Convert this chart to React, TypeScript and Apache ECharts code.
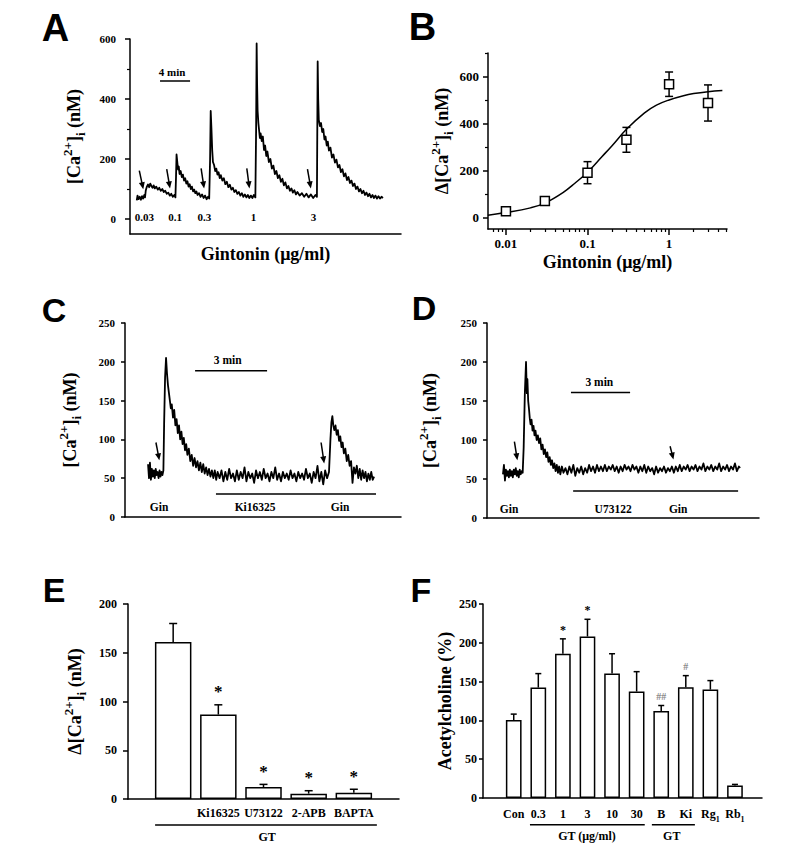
import React, { useEffect, useRef } from "react";
import * as echarts from "echarts";

const SERIF = "Liberation Serif";
const SANS = "Liberation Sans";

// ---------- Panel A: [Ca2+]i trace, time in min vs nM ----------
const aTrace: number[][] = [
  [0.9, 62], [1.0, 78], [1.15, 66], [1.3, 74], [1.45, 64], [1.6, 76], [1.75, 68], [1.9, 80], [2.0, 72],
  [2.1, 95], [2.25, 108], [2.4, 115], [2.55, 106], [2.7, 118], [2.85, 110], [3.0, 104], [3.15, 112], [3.3, 102],
  [3.5, 108], [3.7, 98], [3.9, 104], [4.1, 94], [4.3, 100], [4.5, 90], [4.7, 94], [4.9, 84], [5.1, 88], [5.3, 78],
  [5.5, 84], [5.7, 74], [5.9, 80], [6.05, 72],
  [6.13, 140], [6.2, 215], [6.3, 190], [6.4, 165], [6.5, 175], [6.6, 150], [6.75, 160], [6.9, 140], [7.05, 148],
  [7.2, 128], [7.35, 136], [7.5, 118], [7.65, 126], [7.8, 108], [7.95, 116], [8.1, 100], [8.25, 108], [8.4, 92],
  [8.55, 98], [8.7, 86], [8.85, 92], [9.0, 80], [9.2, 86], [9.4, 74], [9.6, 82], [9.8, 70], [10.0, 78], [10.2, 66],
  [10.4, 74], [10.55, 68],
  [10.67, 200], [10.75, 360], [10.85, 300], [10.95, 230], [11.05, 190], [11.2, 180], [11.35, 160], [11.5, 168],
  [11.65, 148], [11.8, 156], [11.95, 136], [12.1, 146], [12.3, 128], [12.5, 136], [12.7, 116], [12.9, 124],
  [13.1, 106], [13.3, 114], [13.5, 98], [13.7, 104], [13.9, 90], [14.1, 96], [14.3, 84], [14.5, 90], [14.7, 78],
  [14.9, 86], [15.1, 74], [15.3, 82], [15.5, 72], [15.7, 80], [15.9, 70], [16.1, 78], [16.3, 70], [16.5, 80], [16.7, 72],
  [16.8, 300], [16.87, 585], [16.93, 450], [17.0, 360], [17.1, 320], [17.2, 295], [17.3, 270], [17.4, 285],
  [17.55, 260], [17.7, 275], [17.85, 230], [18.0, 245], [18.15, 210], [18.3, 225], [18.5, 190], [18.7, 200],
  [18.9, 168], [19.1, 178], [19.3, 150], [19.5, 160], [19.7, 136], [19.9, 146], [20.1, 124], [20.3, 134],
  [20.5, 112], [20.7, 122], [20.9, 102], [21.1, 110], [21.3, 94], [21.5, 102], [21.7, 88], [21.9, 96], [22.1, 82],
  [22.3, 90], [22.6, 78], [22.9, 86], [23.2, 74], [23.5, 84], [23.8, 72], [24.1, 82], [24.4, 70], [24.7, 80], [24.9, 74],
  [24.95, 300], [25.0, 525], [25.07, 400], [25.15, 330], [25.3, 310], [25.45, 320], [25.6, 290], [25.75, 300],
  [25.9, 265], [26.05, 275], [26.2, 245], [26.35, 258], [26.5, 228], [26.7, 238], [26.9, 205], [27.1, 215],
  [27.3, 188], [27.5, 198], [27.7, 172], [27.9, 180], [28.1, 156], [28.3, 166], [28.5, 142], [28.7, 152],
  [28.9, 130], [29.1, 140], [29.3, 120], [29.5, 128], [29.7, 110], [29.9, 118], [30.1, 100], [30.3, 108],
  [30.5, 92], [30.7, 100], [30.9, 86], [31.1, 94], [31.3, 80], [31.5, 88], [31.7, 76], [31.9, 84], [32.1, 72],
  [32.3, 80], [32.5, 70], [32.7, 78], [32.9, 68], [33.1, 76], [33.3, 68], [33.5, 74], [33.7, 70],
];
const aYTicks = [0, 200, 400, 600];
const aYMinorTicks = [100, 300, 500];
const aDoseLabels = ["0.03", "0.1", "0.3", "1", "3"];
const aDoseTimes = [1.9, 6.0, 9.9, 16.45, 24.45];
const aArrows: number[][] = [
  [1.24, 161, 1.77, 99], [4.89, 166, 5.33, 102], [9.47, 169, 9.87, 102], [15.56, 169, 15.91, 102], [23.64, 166, 24.09, 102],
];
const aScaleBar = { from: 4.0, to: 8.0, level: 460, label: "4 min", labelAt: 5.6, labelLevel: 490 };

// ---------- Panel B: dose-response ----------
const bConc = [0.01, 0.03, 0.1, 0.3, 1, 3];
const bMean = [26, 69, 190, 330, 567, 487];
const bSem = [10, 12, 47, 53, 52, 77];
const bFitConc = [0.006, 0.01, 0.02, 0.03, 0.05, 0.07, 0.1, 0.15, 0.2, 0.3, 0.5, 0.7, 1, 1.5, 2, 3, 4.5];
const bFitVal = [9, 20, 40, 60, 105, 145, 192, 258, 305, 375, 445, 478, 500, 518, 527, 535, 540];
const bYTicks = [0, 200, 400, 600];
const bYMinorTicks = [100, 300, 500, 700];
const bXTickConc = [0.01, 0.1, 1];
const bXTickLabels = ["0.01", "0.1", "1"];
const bXMinorConc = [0.006, 0.007, 0.008, 0.009, 0.02, 0.03, 0.04, 0.05, 0.06, 0.07, 0.08, 0.09,
  0.2, 0.3, 0.4, 0.5, 0.6, 0.7, 0.8, 0.9, 2, 3, 4, 5];

// ---------- Panel C: trace with Ki16325 ----------
const cTrace: number[][] = [
  [0.96, 68], [1.0, 50], [1.04, 70], [1.08, 48], [1.12, 62], [1.16, 52], [1.2, 60], [1.24, 50], [1.28, 62], [1.32, 54],
  [1.36, 58], [1.4, 50], [1.44, 60], [1.48, 52], [1.52, 58], [1.56, 54], [1.6, 60],
  [1.63, 120], [1.67, 180], [1.71, 205], [1.75, 185], [1.79, 170], [1.83, 160], [1.87, 150], [1.91, 140], [1.95, 145],
  [2.0, 128], [2.05, 138], [2.1, 118], [2.15, 126], [2.2, 108], [2.25, 118], [2.3, 100], [2.35, 110], [2.4, 94],
  [2.45, 102], [2.5, 86], [2.55, 94], [2.6, 80], [2.66, 88], [2.72, 72], [2.78, 80], [2.84, 66], [2.9, 76], [2.96, 64],
  [3.02, 72], [3.08, 60], [3.14, 70], [3.2, 58], [3.26, 68], [3.32, 56], [3.38, 64], [3.44, 54], [3.5, 62], [3.56, 52],
  [3.62, 60], [3.68, 50], [3.74, 60], [3.8, 48], [3.86, 58],
  [3.94, 50], [4.02, 60], [4.1, 46], [4.18, 58], [4.26, 48], [4.34, 62], [4.42, 50], [4.5, 56], [4.58, 46], [4.66, 60],
  [4.74, 48], [4.82, 58], [4.9, 50], [4.98, 64], [5.06, 46], [5.14, 58], [5.22, 50], [5.3, 56], [5.38, 44], [5.46, 60],
  [5.54, 50], [5.62, 58], [5.7, 48], [5.78, 62], [5.86, 50], [5.94, 56], [6.02, 46], [6.1, 58], [6.18, 50], [6.26, 64],
  [6.34, 48], [6.42, 56], [6.5, 46], [6.58, 58], [6.66, 50], [6.74, 56], [6.82, 48], [6.9, 60], [6.98, 50], [7.06, 56],
  [7.14, 46], [7.22, 58], [7.3, 50], [7.38, 56], [7.46, 48], [7.54, 62], [7.62, 50], [7.7, 56], [7.78, 44], [7.86, 58],
  [7.94, 50], [8.02, 66], [8.1, 46], [8.18, 58], [8.26, 42], [8.34, 60], [8.42, 50], [8.5, 58],
  [8.56, 100], [8.6, 122], [8.64, 130], [8.68, 118], [8.72, 112], [8.77, 118], [8.82, 106], [8.87, 112], [8.92, 98],
  [8.97, 104], [9.02, 90], [9.07, 96], [9.12, 82], [9.18, 88], [9.24, 72], [9.3, 80], [9.36, 66], [9.42, 72], [9.48, 44],
  [9.54, 64], [9.6, 56], [9.66, 66], [9.72, 50], [9.78, 62], [9.84, 48], [9.9, 60], [9.96, 50], [10.02, 58], [10.08, 46],
  [10.14, 56], [10.2, 48], [10.26, 58], [10.32, 48], [10.38, 52],
];
const cArrows: number[][] = [[1.29, 96, 1.43, 73], [8.17, 96, 8.3, 69]];
const cLabels = ["Gin", "Ki16325", "Gin"];
const cLabelTimes = [1.42, 5.42, 8.96];
const cDrugBar = { from: 3.79, to: 10.46, level: 29.6 };
const cScaleBar = { from: 2.92, to: 5.92, level: 188.5, label: "3 min", labelAt: 4.28, labelLevel: 202 };

// ---------- Panel D: trace with U73122 ----------
const dTrace: number[][] = [
  [0.81, 56], [0.86, 68], [0.91, 48], [0.96, 62], [1.01, 54], [1.06, 60], [1.11, 52], [1.16, 62], [1.21, 54], [1.26, 60],
  [1.31, 52], [1.36, 62], [1.41, 56], [1.46, 64], [1.51, 54], [1.56, 60], [1.61, 52], [1.66, 62], [1.71, 56], [1.76, 60],
  [1.81, 58],
  [1.86, 90], [1.92, 160], [1.98, 200], [2.02, 160], [2.05, 178], [2.09, 150], [2.13, 140], [2.17, 128], [2.21, 120],
  [2.26, 126], [2.31, 112], [2.36, 118], [2.41, 106], [2.46, 112], [2.52, 100], [2.58, 106], [2.64, 96], [2.7, 102],
  [2.76, 88], [2.82, 94], [2.88, 82], [2.94, 88], [3.0, 78], [3.06, 84], [3.12, 72], [3.18, 78], [3.24, 68], [3.3, 74],
  [3.36, 64], [3.42, 70], [3.48, 60], [3.54, 68], [3.6, 58], [3.66, 66], [3.72, 56], [3.8, 66], [3.88, 58],
  [3.98, 64], [4.08, 56], [4.18, 66], [4.28, 58], [4.38, 68], [4.48, 54], [4.58, 64], [4.68, 58], [4.78, 66], [4.88, 56],
  [4.98, 64], [5.08, 58], [5.18, 68], [5.28, 60], [5.38, 66], [5.48, 58], [5.58, 68], [5.68, 60], [5.78, 66], [5.88, 60],
  [5.98, 68], [6.08, 60], [6.18, 66], [6.28, 62], [6.38, 68], [6.48, 60], [6.58, 66], [6.68, 58], [6.78, 66], [6.88, 60],
  [6.98, 68], [7.08, 62], [7.18, 66], [7.28, 60], [7.38, 68], [7.48, 62], [7.58, 66], [7.68, 58], [7.78, 66], [7.88, 60],
  [7.98, 68], [8.08, 58], [8.18, 66], [8.28, 60], [8.38, 64], [8.48, 56], [8.58, 66], [8.68, 58], [8.78, 64], [8.88, 60],
  [8.98, 66], [9.08, 58], [9.18, 64], [9.28, 60], [9.38, 66], [9.48, 58], [9.58, 66], [9.68, 60], [9.78, 68], [9.88, 60],
  [9.98, 66], [10.08, 62], [10.18, 68], [10.28, 60], [10.38, 66], [10.48, 62], [10.58, 68], [10.68, 60], [10.78, 66],
  [10.88, 62], [10.98, 70], [11.08, 60], [11.18, 66], [11.28, 62], [11.38, 68], [11.48, 60], [11.58, 66], [11.68, 62],
  [11.78, 70], [11.88, 60], [11.98, 66], [12.08, 62], [12.18, 68], [12.28, 60], [12.38, 66], [12.48, 62], [12.58, 70],
  [12.68, 60], [12.78, 66], [12.84, 64],
];
const dArrows: number[][] = [[1.39, 98, 1.54, 74], [9.29, 92, 9.46, 75]];
const dLabels = ["Gin", "U73122", "Gin"];
const dLabelTimes = [1.12, 6.4, 9.7];
const dDrugBar = { from: 4.37, to: 12.74, level: 34.6 };
const dScaleBar = { from: 4.26, to: 7.26, level: 161, label: "3 min", labelAt: 5.7, labelLevel: 175 };

// ---------- Panel E: bar chart ----------
const eLabels = ["", "Ki16325", "U73122", "2-APB", "BAPTA"];
const eMean = [161, 86.6, 12.3, 5.5, 6.5];
const eSem = [19, 10, 2.7, 3, 3.5];
const eMarks = ["", "*", "*", "*", "*"];
const eGroup = { label: "GT", from: 0.6, to: 5.51, level: -26.7, labelAt: 3.08, labelLevel: -39 };

// ---------- Panel F: acetylcholine ----------
const fLabels = ["Con", "0.3", "1", "3", "10", "30", "B", "Ki", "Rg{s|1}", "Rb{s|1}"];
const fMean = [100.4, 142.3, 185.9, 208.1, 160.3, 137.2, 112, 142.7, 139.7, 16.2];
const fSem = [7.7, 18, 19.2, 22.2, 25.6, 25.6, 7.2, 15, 11.6, 1.3];
const fMarks = ["", "", "*", "*", "", "", "##", "#", "", ""];
const fGroups = [
  { label: "GT (\u03bcg/ml)", from: 1.66, to: 6.33, labelAt: 3.98 },
  { label: "GT", from: 6.62, to: 8.37, labelAt: 7.43 },
];
const fGroupLevel = -34.4;
const fGroupLabelLevel = -49.6;

// ---------- helpers ----------
const black = "#000";
const axLine = { show: true, onZero: false, lineStyle: { color: black, width: 1.5 } };

function yAxis(grid: number, min: number, max: number, ticks: number[], o: any) {
  return {
    type: "value", gridIndex: grid, min, max, position: "left",
    axisLine: axLine,
    axisTick: { show: true, inside: false, length: o.tickLen ?? 5, lineStyle: { color: black, width: 1.5 }, customValues: ticks },
    axisLabel: {
      show: true, customValues: ticks, margin: o.margin, color: black,
      fontFamily: SERIF, fontWeight: "bold", fontSize: o.fontSize,
    },
    splitLine: { show: false },
    name: o.name, nameLocation: "middle", nameGap: o.nameGap, nameRotate: 90,
    nameTextStyle: {
      color: black, fontFamily: SERIF, fontWeight: "bold", fontSize: 18,
      rich: {
        n: { fontFamily: SERIF, fontWeight: "bold", fontSize: 18, lineHeight: 26, color: black },
        sup: { fontFamily: SERIF, fontWeight: "bold", fontSize: 13, lineHeight: 13, verticalAlign: "top", color: black },
        sub: { fontFamily: SERIF, fontWeight: "bold", fontSize: 13, lineHeight: 13, verticalAlign: "bottom", color: black },
      },
    },
  };
}
function minorY(grid: number, min: number, max: number, ticks: number[]) {
  return {
    type: "value", gridIndex: grid, min, max, position: "left", axisLine: { show: false, onZero: false }, splitLine: { show: false },
    axisTick: { show: true, length: 3, lineStyle: { color: black, width: 1.2 }, customValues: ticks },
    axisLabel: { show: false },
  };
}
const caName = "{n|[Ca}{sup|2+}{n|]}{sub|i}{n| (nM)}";
const dCaName = "{n|\u0394[Ca}{sup|2+}{n|]}{sub|i}{n| (nM)}";

function renderAnnots(items: any[]) {
  return (_params: any, api: any) => {
    const ch: any[] = [];
    for (const it of items) {
      if (it.k === "line") {
        const a = api.coord([it.x1, it.y1]);
        const b = api.coord([it.x2, it.y2]);
        ch.push({ type: "line", shape: { x1: a[0], y1: a[1], x2: b[0], y2: b[1] }, style: { stroke: black, lineWidth: it.w ?? 1.5 } });
      } else if (it.k === "arrow") {
        const a = api.coord([it.x1, it.y1]);
        const b = api.coord([it.x2, it.y2]);
        const dx = b[0] - a[0], dy = b[1] - a[1];
        const L = Math.hypot(dx, dy) || 1;
        const ux = dx / L, uy = dy / L;
        const hl = 7, hw = 3;
        const bx = b[0] - ux * hl, by = b[1] - uy * hl;
        ch.push({ type: "line", shape: { x1: a[0], y1: a[1], x2: bx + ux * 2, y2: by + uy * 2 }, style: { stroke: black, lineWidth: 1.5 } });
        ch.push({ type: "polygon", shape: { points: [[b[0], b[1]], [bx - uy * hw, by + ux * hw], [bx + uy * hw, by - ux * hw]] }, style: { fill: black } });
      } else if (it.k === "text") {
        const p = api.coord([it.x, it.y]);
        ch.push({
          type: "text", x: p[0], y: p[1] + (it.dy ?? 0),
          style: {
            text: it.t, fill: it.color ?? black, fontFamily: SERIF, fontWeight: "bold",
            fontSize: it.size ?? 12, align: "center", verticalAlign: "middle",
          },
        });
      } else if (it.k === "err") {
        const top = api.coord([it.x, it.hi]);
        const bot = api.coord([it.x, it.lo]);
        const h = it.cap / 2;
        ch.push({ type: "line", shape: { x1: top[0], y1: top[1], x2: bot[0], y2: bot[1] }, style: { stroke: black, lineWidth: 1.5 } });
        ch.push({ type: "line", shape: { x1: top[0] - h, y1: top[1], x2: top[0] + h, y2: top[1] }, style: { stroke: black, lineWidth: 1.5 } });
        if (it.both) {
          ch.push({ type: "line", shape: { x1: bot[0] - h, y1: bot[1], x2: bot[0] + h, y2: bot[1] }, style: { stroke: black, lineWidth: 1.5 } });
        }
      }
    }
    return { type: "group", children: ch };
  };
}

function annotSeries(xi: number, yi: number, items: any[], z = 5) {
  return {
    type: "custom", xAxisIndex: xi, yAxisIndex: yi, silent: true, clip: false, z,
    data: [[0, 0]], renderItem: renderAnnots(items),
  };
}

function traceSeries(xi: number, yi: number, data: number[][]) {
  return {
    type: "line", xAxisIndex: xi, yAxisIndex: yi, data, showSymbol: false, symbol: "none", silent: true,
    lineStyle: { color: black, width: 1.8, join: "round" }, z: 3,
  };
}

function buildOption() {
  const grids = [
    { left: 130, top: 39, width: 271, height: 195 },
    { left: 488, top: 53, width: 239, height: 176 },
    { left: 125, top: 323, width: 276, height: 194 },
    { left: 487, top: 323, width: 272, height: 195 },
    { left: 128, top: 604, width: 271, height: 195 },
    { left: 483, top: 604, width: 279, height: 194 },
  ].map((g) => ({ ...g, containLabel: false, outerBoundsMode: "none" }));

  const noTickX = (grid: number, min: number, max: number, extra: any = {}) => ({
    type: "value", gridIndex: grid, min, max, position: "bottom", axisLine: axLine,
    axisTick: { show: false }, axisLabel: { show: false }, splitLine: { show: false }, ...extra,
  });
  const xNameStyle = { color: black, fontFamily: SERIF, fontWeight: "bold", fontSize: 18 };

  const log = (v: number) => Math.log10(v);

  const xAxes: any[] = [
    noTickX(0, 0, 36.1, { name: "Gintonin (\u03bcg/ml)", nameLocation: "middle", nameGap: 11, nameTextStyle: xNameStyle }),
    {
      type: "value", gridIndex: 1, min: -2.22, max: 0.71, position: "bottom", axisLine: axLine, splitLine: { show: false },
      axisTick: { show: true, length: 6, lineStyle: { color: black, width: 1.5 }, customValues: bXTickConc.map(log) },
      axisLabel: {
        show: true, customValues: bXTickConc.map(log), margin: 8, color: black, fontFamily: SERIF, fontWeight: "bold", fontSize: 13,
        formatter: (v: number) => bXTickLabels[bXTickConc.findIndex((c) => Math.abs(log(c) - v) < 1e-6)] ?? "",
      },
      name: "Gintonin (\u03bcg/ml)", nameLocation: "middle", nameGap: 24, nameTextStyle: xNameStyle,
    },
    {
      type: "value", gridIndex: 1, min: -2.22, max: 0.71, position: "bottom", axisLine: { show: false, onZero: false }, splitLine: { show: false },
      axisTick: { show: true, length: 3, lineStyle: { color: black, width: 1.2 }, customValues: bXMinorConc.map(log) },
      axisLabel: { show: false },
    },
    noTickX(2, 0, 11.5),
    noTickX(3, 0, 13.8),
    {
      type: "value", gridIndex: 4, min: 0, max: 6, position: "bottom", axisLine: axLine, splitLine: { show: false }, axisTick: { show: false },
      axisLabel: {
        show: true, customValues: [1, 2, 3, 4, 5], margin: 8, color: black, fontFamily: SERIF, fontWeight: "bold", fontSize: 12,
        formatter: (v: number) => eLabels[Math.round(v) - 1] ?? "",
      },
    },
    {
      type: "value", gridIndex: 5, min: -0.25, max: 11.1, position: "bottom", axisLine: axLine, splitLine: { show: false }, axisTick: { show: false },
      axisLabel: {
        show: true, customValues: [1, 2, 3, 4, 5, 6, 7, 8, 9, 10], margin: 7, color: black, fontFamily: SERIF, fontWeight: "bold", fontSize: 12,
        formatter: (v: number) => {
          const s = fLabels[Math.round(v) - 1] ?? "";
          return s.includes("{s|") ? "{n|" + s.replace("{s|", "}{s|") : "{n|" + s + "}";
        },
        rich: {
          n: { fontFamily: SERIF, fontWeight: "bold", fontSize: 12, lineHeight: 18, color: black },
          s: { fontFamily: SERIF, fontWeight: "bold", fontSize: 8, lineHeight: 8, verticalAlign: "bottom", color: black },
        },
      },
    },
  ];

  const yAxes: any[] = [
    yAxis(0, -50, 600, aYTicks, { margin: 14, fontSize: 11, name: caName, nameGap: 43 }),
    yAxis(1, -50, 700, bYTicks, { margin: 9, fontSize: 13, name: dCaName, nameGap: 33, tickLen: 5 }),
    minorY(1, -50, 700, bYMinorTicks),
    yAxis(2, 0, 250, [0, 50, 100, 150, 200, 250], { margin: 10, fontSize: 11, name: caName, nameGap: 42, tickLen: 4 }),
    yAxis(3, 0, 250, [0, 50, 100, 150, 200, 250], { margin: 10, fontSize: 11, name: caName, nameGap: 44, tickLen: 4 }),
    yAxis(4, 0, 200, [0, 50, 100, 150, 200], { margin: 11, fontSize: 12, name: dCaName, nameGap: 40 }),
    yAxis(5, 0, 250, [0, 50, 100, 150, 200, 250], { margin: 6, fontSize: 12, name: "{n|Acetylcholine (%)}", nameGap: 25, tickLen: 4 }),
    minorY(0, -50, 600, aYMinorTicks),
  ];

  // annotations
  const aAnn: any[] = [
    ...aArrows.map((a) => ({ k: "arrow", x1: a[0], y1: a[1], x2: a[2], y2: a[3] })),
    ...aDoseLabels.map((t, i) => ({ k: "text", x: aDoseTimes[i], y: 7, t, size: 11 })),
    { k: "line", x1: aScaleBar.from, y1: aScaleBar.level, x2: aScaleBar.to, y2: aScaleBar.level },
    { k: "text", x: aScaleBar.labelAt, y: aScaleBar.labelLevel, t: aScaleBar.label, size: 11 },
  ];
  const bAnn: any[] = bConc.map((c, i) => ({ k: "err", x: log(c), lo: bMean[i] - bSem[i], hi: bMean[i] + bSem[i], cap: 8, both: true }));
  const traceAnn = (arrows: number[][], labels: string[], times: number[], labelLevel: number, drug: any, sb: any) => [
    ...arrows.map((a) => ({ k: "arrow", x1: a[0], y1: a[1], x2: a[2], y2: a[3] })),
    ...labels.map((t, i) => ({ k: "text", x: times[i], y: labelLevel, t, size: 11.5 })),
    { k: "line", x1: drug.from, y1: drug.level, x2: drug.to, y2: drug.level },
    { k: "line", x1: sb.from, y1: sb.level, x2: sb.to, y2: sb.level },
    { k: "text", x: sb.labelAt, y: sb.labelLevel, t: sb.label, size: 11.5 },
  ];
  const cAnn = traceAnn(cArrows, cLabels, cLabelTimes, 13, cDrugBar, cScaleBar);
  const dAnn = traceAnn(dArrows, dLabels, dLabelTimes, 11.5, dDrugBar, dScaleBar);

  const eAnn: any[] = [
    ...eMean.map((m, i) => ({ k: "err", x: i + 1, lo: m, hi: m + eSem[i], cap: 8 })),
    ...eMarks.map((t, i) => ({ k: "text", x: i + 1, y: eMean[i] + eSem[i], t, size: 17, dy: -13 })).filter((m) => m.t),
    { k: "line", x1: eGroup.from, y1: eGroup.level, x2: eGroup.to, y2: eGroup.level },
    { k: "text", x: eGroup.labelAt, y: eGroup.labelLevel, t: eGroup.label, size: 12 },
  ];
  const fAnn: any[] = [
    ...fMean.map((m, i) => ({ k: "err", x: i + 1, lo: m, hi: m + fSem[i], cap: 6 })),
    ...fMarks
      .map((t, i) => ({ k: "text", x: i + 1, y: fMean[i] + fSem[i], t, size: t.startsWith("#") ? 10 : 12, dy: -9, color: t.startsWith("#") ? "#8a8a8a" : black }))
      .filter((m) => m.t),
    ...fGroups.map((g) => ({ k: "line", x1: g.from, y1: fGroupLevel, x2: g.to, y2: fGroupLevel })),
    ...fGroups.map((g) => ({ k: "text", x: g.labelAt, y: fGroupLabelLevel, t: g.label, size: 12 })),
  ];

  const barStyle = { color: "#fff", borderColor: black, borderWidth: 1.5, opacity: 1 };

  const series: any[] = [
    traceSeries(0, 0, aTrace),
    annotSeries(0, 0, aAnn),
    {
      type: "line", xAxisIndex: 1, yAxisIndex: 1, smooth: 0.4, showSymbol: false, symbol: "none", silent: true,
      data: bFitConc.map((c, i) => [log(c), bFitVal[i]]), lineStyle: { color: black, width: 1.5 }, z: 2,
    },
    annotSeries(1, 1, bAnn, 3),
    {
      type: "scatter", xAxisIndex: 1, yAxisIndex: 1, symbol: "rect", symbolSize: 9, silent: true, z: 6,
      data: bConc.map((c, i) => [log(c), bMean[i]]),
      itemStyle: { color: "#fff", borderColor: black, borderWidth: 1.5, opacity: 1 },
    },
    traceSeries(3, 3, cTrace),
    annotSeries(3, 3, cAnn),
    traceSeries(4, 4, dTrace),
    annotSeries(4, 4, dAnn),
    {
      type: "bar", xAxisIndex: 5, yAxisIndex: 5, barWidth: 36.5, silent: true, z: 2,
      data: eMean.map((v, i) => [i + 1, v]), itemStyle: barStyle,
    },
    annotSeries(5, 5, eAnn),
    {
      type: "bar", xAxisIndex: 6, yAxisIndex: 6, barWidth: 15.7, silent: true, z: 2,
      data: fMean.map((v, i) => [i + 1, v]), itemStyle: barStyle,
    },
    annotSeries(6, 6, fAnn),
  ];

  const letter = (t: string, x: number, y: number, size: number) => ({
    type: "text", x, y, silent: true,
    style: { text: t, fill: black, fontFamily: SANS, fontWeight: "bold", fontSize: size, align: "center", verticalAlign: "middle" },
  });

  return {
    animation: false,
    backgroundColor: "#fff",
    textStyle: { fontFamily: SERIF },
    grid: grids,
    xAxis: xAxes,
    yAxis: yAxes,
    series,
    graphic: [
      letter("A", 55.5, 28, 38),
      letter("B", 422.5, 27, 38),
      letter("C", 54, 310, 34),
      letter("D", 424, 308, 34),
      letter("E", 54, 590, 34),
      letter("F", 421, 590, 34),
    ],
  };
}

export default function App() {
  const ref = useRef<HTMLDivElement>(null);
  useEffect(() => {
    document.body.style.margin = "0";
    if (!ref.current) return;
    const chart = echarts.init(ref.current, null, { renderer: "svg" });
    chart.setOption(buildOption() as any);
    return () => chart.dispose();
  }, []);
  return <div ref={ref} style={{ width: 786, height: 853, background: "#fff" }} />;
}
